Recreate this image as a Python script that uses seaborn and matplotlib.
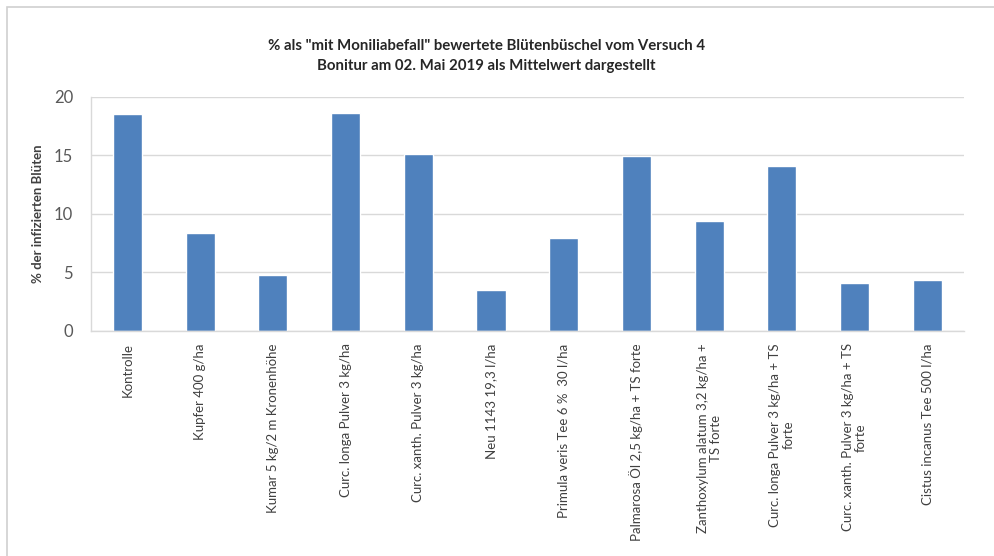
import numpy as np
import pandas as pd
import matplotlib.pyplot as plt
import seaborn as sns
from matplotlib.patches import Rectangle

sns.set_style("white")
plt.rcParams['font.family'] = ['Lato', 'DejaVu Sans']

# Daten
varianten = [
    'Kontrolle',
    'Kupfer 400 g/ha',
    'Kumar 5 kg/2 m Kronenhöhe',
    'Curc. longa Pulver 3 kg/ha',
    'Curc. xanth. Pulver 3 kg/ha',
    'Neu 1143 19,3 l/ha',
    'Primula veris Tee 6 %  30 l/ha',
    'Palmarosa Öl 2,5 kg/ha + TS forte',
    'Zanthoxylum alatum 3,2 kg/ha +\nTS forte',
    'Curc. longa Pulver 3 kg/ha + TS\nforte',
    'Curc. xanth. Pulver 3 kg/ha + TS\nforte',
    'Cistus incanus Tee 500 l/ha',
]
befall = [18.5, 8.4, 4.8, 18.6, 15.1, 3.5, 7.9, 14.9, 9.4, 14.1, 4.1, 4.3]
y_ticks = [0, 5, 10, 15, 20]

df = pd.DataFrame({'Variante': varianten, 'Befall': befall})

fig = plt.figure(figsize=(9.95, 5.56), dpi=100)
ax = fig.add_axes([0.0915, 0.405, 0.877, 0.421])

sns.barplot(data=df, x='Variante', y='Befall', color='#4F81BD',
            saturation=1, width=0.4, ax=ax)

ax.set_xlim(-0.5, len(varianten) - 0.5)
ax.set_ylim(0, 20)
ax.set_yticks(y_ticks)
ax.grid(axis='y', color='#D9D9D9', linewidth=1)
ax.set_axisbelow(True)

for s in ['top', 'right']:
    ax.spines[s].set_visible(False)
for s in ['left', 'bottom']:
    ax.spines[s].set_color('#D9D9D9')
    ax.spines[s].set_linewidth(1)

ax.set_xticks(np.arange(len(varianten)))
ax.set_xticklabels(varianten, rotation=90, ha='center', va='top',
                   multialignment='center', fontsize=9.5, color='#404040',
                   linespacing=1.1)
ax.set_xticks(np.arange(len(varianten) + 1) - 0.5, minor=True)
ax.tick_params(axis='x', which='major', length=0, pad=9)
ax.tick_params(axis='x', which='minor', length=4, color='#D9D9D9', width=1)
ax.tick_params(axis='y', length=4, color='#D9D9D9', width=1,
               labelsize=12, labelcolor='#595959', pad=9)

ax.set_xlabel('')
ax.set_ylabel('% der infizierten Blüten', fontsize=9.5, fontweight='bold',
              color='#404040', labelpad=7)

fig.text(0.489, 0.918, '% als "mit Moniliabefall" bewertete Blütenbüschel vom Versuch 4',
         ha='center', va='center', fontsize=10.8, fontweight='bold', color='#262626')
fig.text(0.489, 0.881, 'Bonitur am 02. Mai 2019 als Mittelwert dargestellt',
         ha='center', va='center', fontsize=10.8, fontweight='bold', color='#262626')

# Rahmen um das Diagramm
fig.patches.append(Rectangle((7 / 995, -0.1), 1.2, 1 - 7 / 556 + 0.1,
                             transform=fig.transFigure, fill=False,
                             edgecolor='#D0D0D0', linewidth=1.2))

fig.savefig('out.png', dpi=100)
